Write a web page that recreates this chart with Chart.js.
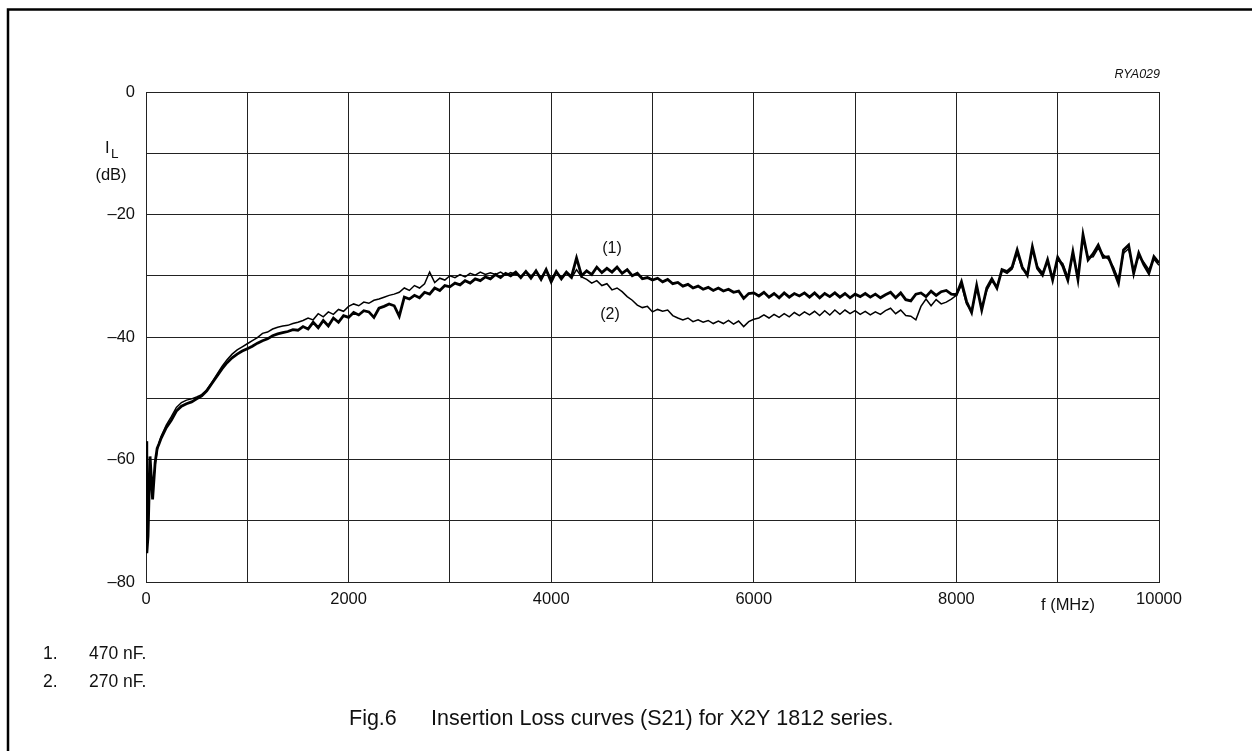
<!DOCTYPE html>
<html><head><meta charset="utf-8">
<script src="https://cdn.jsdelivr.net/npm/chart.js@4"></script>
<style>html,body{margin:0;padding:0;background:#fff;overflow:hidden;} #wrap{width:1252px;height:751px;position:relative;}</style>
</head><body><div id="wrap"><canvas id="c" width="1252" height="751"></canvas></div>
<script>
// Frequency (MHz)
const freq = [0,8,20,40,65,90,110,130,150,
200,250,300,350,400,450,500,550,600,650,700,750,800,850,900,950,1000,
1050,1100,1150,1200,1250,1300,1350,1400,1450,1500,1550,1600,1650,1700,1750,1800,1850,1900,1950,2000,
2050,2100,2150,2200,2250,2300,2350,2400,2450,2500,2550,2600,2650,2700,2750,2800,2850,2900,2950,3000,
3050,3100,3150,3200,3250,3300,3350,3400,3450,3500,3550,3600,3650,3700,3750,3800,3850,3900,3950,4000,
4050,4100,4150,4200,4250,4300,4350,4400,4450,4500,4550,4600,4650,4700,4750,4800,4850,4900,4950,5000,
5050,5100,5150,5200,5250,5300,5350,5400,5450,5500,5550,5600,5650,5700,5750,5800,5850,5900,5950,6000,
6050,6100,6150,6200,6250,6300,6350,6400,6450,6500,6550,6600,6650,6700,6750,6800,6850,6900,6950,7000,
7050,7100,7150,7200,7250,7300,7350,7400,7450,7500,7550,7600,7650,7700,7750,7800,7850,7900,7950,8000,
8050,8100,8150,8200,8250,8300,8350,8400,8450,8500,8550,8600,8650,8700,8750,8800,8850,8900,8950,9000,
9050,9100,9150,9200,9250,9300,9350,9400,9450,9500,9550,9600,9650,9700,9750,9800,9850,9900,9950,10000];

// (1) 470 nF insertion loss (dB)
const loss470 = [-57,-75.3,-72.5,-59.5,-66.5,-60.5,-58.2,-57.4,-56.5,
-54.8,-53.6,-52.1,-51.3,-50.9,-50.6,-50.1,-49.6,-48.8,-47.6,-46.4,-45.2,-44.2,-43.4,-42.8,-42.3,-41.9,
-41.5,-41.0,-40.6,-40.3,-39.8,-39.5,-39.3,-39.1,-38.8,-38.9,-38.3,-38.7,-37.6,-38.5,-37.3,-38.2,-36.9,-37.6,-36.5,-36.8,
-36.0,-36.4,-35.7,-35.9,-36.8,-35.3,-35.0,-34.6,-34.9,-36.6,-33.5,-33.8,-33.2,-33.6,-32.7,-33.0,-32.0,-32.4,-31.6,-31.8,
-31.2,-31.5,-30.8,-31.2,-30.5,-30.8,-30.2,-30.5,-29.8,-30.3,-29.6,-30.0,-29.4,-30.3,-29.3,-30.4,-29.2,-30.6,-29.0,-31.0,
-29.3,-30.5,-29.4,-30.2,-27.1,-30.0,-29.2,-29.8,-28.6,-29.5,-28.8,-29.4,-28.6,-29.6,-29.0,-30.0,-29.6,-30.5,-30.3,-30.7,
-30.4,-31.0,-30.6,-31.3,-31.1,-31.7,-31.4,-32.0,-31.7,-32.2,-31.9,-32.4,-32.0,-32.5,-32.2,-32.7,-32.5,-33.7,-32.9,-32.8,
-33.3,-32.7,-33.5,-32.9,-33.6,-32.8,-33.5,-32.9,-33.3,-32.8,-33.5,-32.8,-33.6,-32.9,-33.4,-32.8,-33.5,-32.9,-33.6,-33.0,
-33.4,-32.9,-33.5,-33.0,-33.6,-33.1,-32.7,-33.6,-32.8,-33.9,-34.1,-33.0,-32.8,-33.4,-32.5,-33.2,-32.6,-32.4,-33.0,-33.1,
-31.0,-34.2,-36.0,-31.6,-35.6,-32.0,-30.5,-32.0,-29.0,-29.3,-28.6,-25.8,-28.6,-29.9,-25.3,-28.8,-29.9,-27.4,-30.7,-27.0,
-28.4,-30.7,-26.1,-30.6,-23.3,-27.4,-26.4,-25.0,-27.0,-26.9,-29.0,-31.2,-25.8,-25.0,-29.6,-26.3,-28.2,-29.6,-26.9,-27.9];

// (2) 270 nF insertion loss (dB)
const loss270 = [-58,-73.5,-71,-60.5,-65,-61,-58.5,-57.2,-56.2,
-54.4,-53.0,-51.5,-50.7,-50.3,-50.1,-49.8,-49.4,-48.6,-47.4,-46.1,-44.8,-43.7,-42.8,-42.1,-41.6,-41.1,
-40.6,-40.1,-39.4,-39.2,-38.7,-38.4,-38.2,-38.1,-37.8,-37.6,-37.3,-36.9,-37.2,-36.2,-36.7,-35.9,-36.3,-35.5,-35.8,-35.0,
-34.6,-34.9,-34.3,-34.5,-34.0,-33.8,-33.5,-33.2,-33.0,-32.7,-32.0,-32.4,-31.6,-32.0,-31.3,-29.4,-31.1,-30.4,-30.7,-30.0,
-30.3,-29.8,-30.2,-29.6,-29.9,-29.4,-29.8,-29.5,-29.8,-29.4,-29.9,-29.5,-29.8,-30.1,-29.3,-30.0,-29.4,-30.3,-29.1,-30.5,
-29.4,-30.3,-29.6,-30.4,-29.0,-30.2,-30.6,-31.2,-30.8,-31.6,-31.3,-32.3,-32.0,-32.6,-33.4,-34.0,-34.8,-35.2,-35.0,-35.9,
-35.5,-35.8,-35.6,-36.5,-36.9,-37.2,-36.9,-37.5,-37.2,-37.6,-37.3,-37.8,-37.4,-37.8,-37.3,-37.9,-37.4,-38.3,-37.5,-37.1,
-36.9,-36.4,-36.9,-36.3,-36.8,-36.2,-36.7,-36.0,-36.5,-35.9,-36.4,-35.8,-36.5,-35.7,-36.4,-35.6,-36.3,-35.6,-36.2,-35.7,
-36.3,-35.8,-36.4,-35.9,-36.3,-35.7,-35.3,-36.2,-35.6,-36.5,-36.6,-37.2,-35.0,-33.8,-34.9,-33.9,-34.6,-34.3,-33.8,-33.2,
-31.5,-34.6,-35.8,-32.0,-35.2,-32.4,-30.9,-31.8,-29.2,-29.6,-28.9,-26.3,-28.9,-29.6,-25.8,-28.5,-29.5,-27.8,-30.2,-27.4,
-28.0,-30.2,-26.6,-30.0,-24.0,-27.0,-26.9,-25.5,-26.6,-27.3,-28.6,-30.6,-26.3,-25.6,-29.1,-26.8,-27.8,-29.0,-27.3,-28.3];

const yLabelValues = [0, -20, -40, -60, -80];
const xLabelValues = [0, 2000, 4000, 6000, 8000, 10000];

const FONT = "'Liberation Sans', Arial, Helvetica, sans-serif";
const INK = '#111';

const annot = {
  id: 'annot',
  afterDraw(chart) {
    const ctx = chart.ctx;
    ctx.save();
    // page frame (top + left)
    ctx.strokeStyle = '#000';
    ctx.lineWidth = 2.5;
    ctx.beginPath();
    ctx.moveTo(8, 751); ctx.lineTo(8, 9.5); ctx.lineTo(1252, 9.5);
    ctx.stroke();
    ctx.fillStyle = INK;
    ctx.textBaseline = 'middle';
    // drawing code
    ctx.font = 'italic 12.5px ' + FONT;
    ctx.textAlign = 'right';
    ctx.fillText('RYA029', 1160, 75);
    // y axis title
    ctx.textAlign = 'left';
    ctx.textBaseline = 'alphabetic';
    ctx.font = '16.5px ' + FONT;
    ctx.fillText('I', 105, 153);
    ctx.font = '13.5px ' + FONT;
    ctx.fillText('L', 111, 158);
    ctx.textBaseline = 'middle';
    ctx.textAlign = 'center';
    ctx.font = '16.5px ' + FONT;
    ctx.fillText('(dB)', 111, 175);
    // curve labels
    ctx.font = '16px ' + FONT;
    ctx.fillText('(1)', 612, 249);
    ctx.fillText('(2)', 610, 315);
    // x axis title
    ctx.font = '16.5px ' + FONT;
    ctx.fillText('f (MHz)', 1068, 605);
    // footnotes
    ctx.textAlign = 'left';
    ctx.font = '17.5px ' + FONT;
    ctx.fillText('1.', 43, 654);
    ctx.fillText('470 nF.', 89, 654);
    ctx.fillText('2.', 43, 682);
    ctx.fillText('270 nF.', 89, 682);
    // caption
    ctx.font = '21.5px ' + FONT;
    ctx.fillText('Fig.6', 349, 719);
    ctx.fillText('Insertion Loss curves (S21) for X2Y 1812 series.', 431, 719);
    ctx.restore();
  }
};

const pts = (vals) => freq.map((f, i) => ({x: f, y: vals[i]}));

new Chart(document.getElementById('c'), {
  type: 'scatter',
  data: {
    datasets: [
      { label: '270 nF', data: pts(loss270), showLine: true, borderColor: '#000', borderWidth: 1.5, pointRadius: 0, tension: 0, order: 2 },
      { label: '470 nF', data: pts(loss470), showLine: true, borderColor: '#000', borderWidth: 2.8, pointRadius: 0, tension: 0, order: 1 }
    ]
  },
  options: {
    responsive: false,
    animation: false,
    devicePixelRatio: 1,
    layout: { padding: { left: 0, right: 93, top: 92, bottom: 0 } },
    plugins: { legend: { display: false }, tooltip: { enabled: false } },
    scales: {
      x: {
        type: 'linear', min: 0, max: 10000,
        afterFit(s) { s.height = 169; },
        grid: { color: '#222', lineWidth: 1, drawTicks: false },
        border: { color: '#222', width: 1 },
        ticks: {
          stepSize: 1000, padding: 8, maxRotation: 0, autoSkip: false,
          color: INK, font: { family: FONT, size: 16.5 },
          callback: (v) => xLabelValues.includes(v) ? String(v) : ''
        }
      },
      y: {
        type: 'linear', min: -80, max: 0,
        afterFit(s) { s.width = 146; },
        grid: { color: '#222', lineWidth: 1, drawTicks: false },
        border: { color: '#222', width: 1 },
        ticks: {
          stepSize: 10, padding: 11, autoSkip: false,
          color: INK, font: { family: FONT, size: 16.5 },
          callback: (v) => yLabelValues.includes(v) ? (v < 0 ? '\u2013' + Math.abs(v) : String(v)) : ''
        }
      }
    }
  },
  plugins: [annot]
});
</script>
</body></html>
